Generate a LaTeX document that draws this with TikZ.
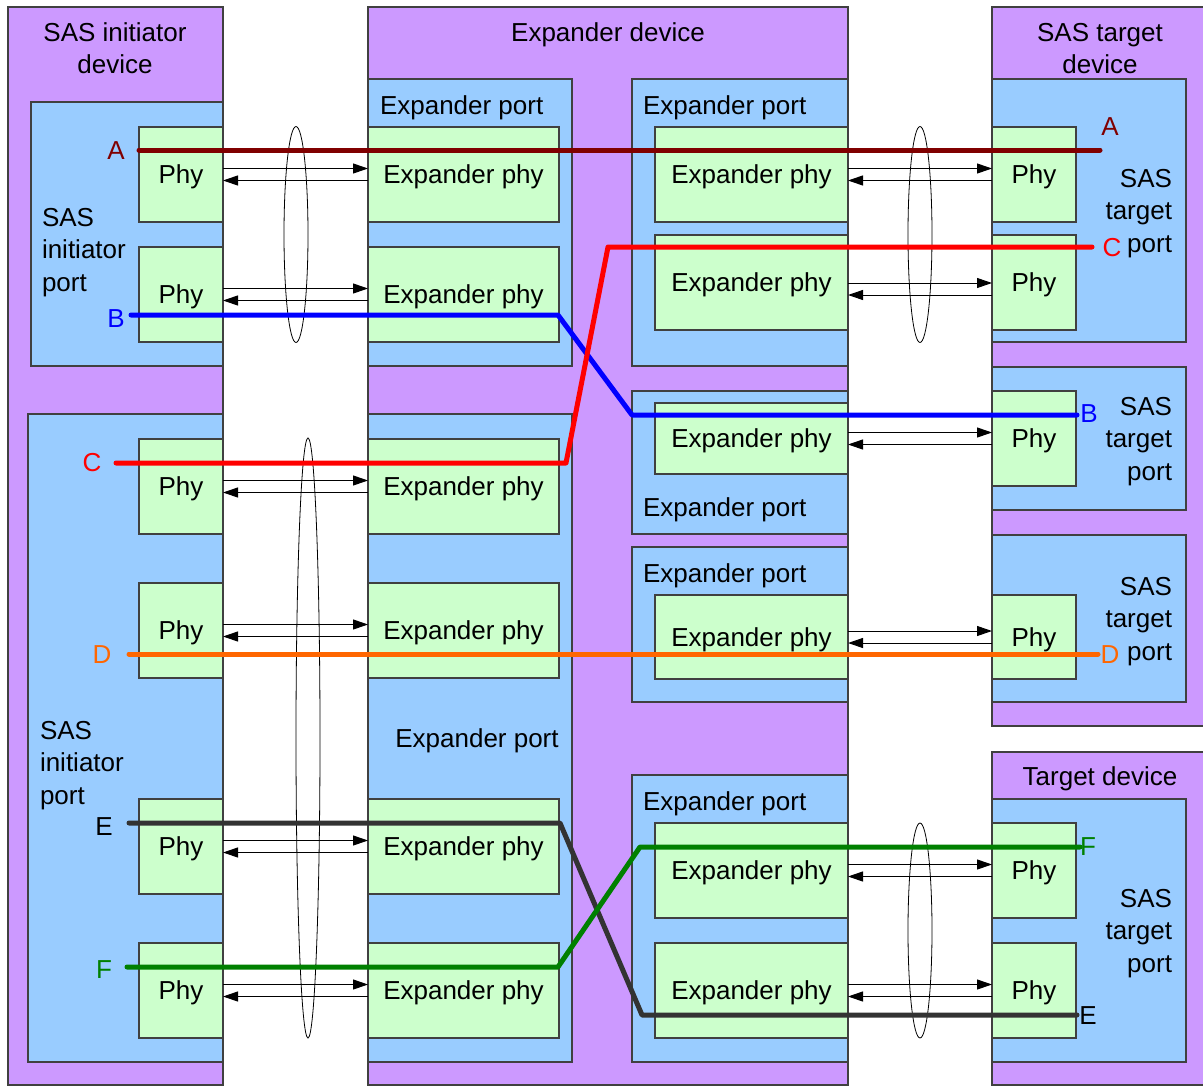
\documentclass[tikz,border=0pt]{standalone}
\usepackage{fontspec}
\setmainfont{Liberation Sans}
\usetikzlibrary{shapes.geometric, arrows.meta}
\definecolor{devc}{HTML}{CC99FF}
\definecolor{portc}{HTML}{99CCFF}
\definecolor{phyc}{HTML}{CCFFCC}
\definecolor{edgec}{HTML}{404040}
\definecolor{colA}{HTML}{800000}
\definecolor{colB}{HTML}{0000FF}
\definecolor{colC}{HTML}{FF0000}
\definecolor{colD}{HTML}{FF6600}
\definecolor{colE}{HTML}{333333}
\definecolor{colF}{HTML}{008000}
\begin{document}
\begin{tikzpicture}[x=1pt, y=-1pt,
  every node/.style={inner sep=0pt, outer sep=0pt},
  lbl/.style={font=\fontsize{26}{31}\selectfont, text height=18.6pt, text depth=0pt},
  box/.style={draw=edgec, line width=1.3pt, anchor=north west, lbl},
  dev/.style={box, fill=devc},
  port/.style={box, fill=portc},
  phybox/.style={box, fill=phyc},
  link/.style={ellipse, draw=black, line width=0.8pt, minimum width=24pt},
  fwd/.style={line width=1pt, -{Triangle[length=15pt, width=10pt]}},
  sig/.style={line width=5pt, line cap=round, line join=round},
]
\useasboundingbox (0,0) rectangle (1203,1087);
% devices
\node[dev, minimum width=215pt, minimum height=1078pt] (idev) at (8,7) {};
\node[dev, minimum width=480pt, minimum height=1078pt] (xdev) at (368,7) {};
\node[dev, minimum width=220pt, minimum height=719pt] (tdevA) at (992,7) {};
\node[dev, minimum width=220pt, minimum height=333pt] (tdevB) at (992,752) {};
% ports
\node[port, minimum width=192pt, minimum height=264pt] (ipA) at (31,102) {};
\node[port, minimum width=195pt, minimum height=648pt] (ipB) at (28,414) {};
\node[port, minimum width=204pt, minimum height=287pt] (xpLA) at (368,79) {};
\node[port, minimum width=204pt, minimum height=648pt] (xpLB) at (368,414) {};
\node[port, minimum width=216pt, minimum height=287pt] (xpRA) at (632,79) {};
\node[port, minimum width=216pt, minimum height=143pt] (xpRB) at (632,391) {};
\node[port, minimum width=216pt, minimum height=155pt] (xpRC) at (632,547) {};
\node[port, minimum width=216pt, minimum height=287pt] (xpRD) at (632,775) {};
\node[port, minimum width=194pt, minimum height=263pt] (tpA) at (992,79) {};
\node[port, minimum width=194pt, minimum height=143pt] (tpB) at (992,367) {};
\node[port, minimum width=194pt, minimum height=167pt] (tpC) at (992,535) {};
\node[port, minimum width=194pt, minimum height=263pt] (tpD) at (992,799) {};
% initiator phys
\foreach \n/\y in {1/127,2/247,3/439,4/583,5/799,6/943}{
  \node[phybox, minimum width=84pt, minimum height=95pt] (iphy\n) at (139,\y) {Phy};
  \node[phybox, minimum width=191pt, minimum height=95pt] (xphyL\n) at (368,\y) {Expander phy};
}
% expander right phys
\node[phybox, minimum width=193pt, minimum height=95pt] (xphyR1) at (655,127) {Expander phy};
\node[phybox, minimum width=193pt, minimum height=95pt] (xphyR2) at (655,235) {Expander phy};
\node[phybox, minimum width=193pt, minimum height=71pt] (xphyR3) at (655,403) {Expander phy};
\node[phybox, minimum width=193pt, minimum height=84pt] (xphyR4) at (655,595) {Expander phy};
\node[phybox, minimum width=193pt, minimum height=95pt] (xphyR5) at (655,823) {Expander phy};
\node[phybox, minimum width=193pt, minimum height=95pt] (xphyR6) at (655,943) {Expander phy};
% target phys
\node[phybox, minimum width=84pt, minimum height=95pt] (tphy1) at (992,127) {Phy};
\node[phybox, minimum width=84pt, minimum height=95pt] (tphy2) at (992,235) {Phy};
\node[phybox, minimum width=84pt, minimum height=95pt] (tphy3) at (992,391) {Phy};
\node[phybox, minimum width=84pt, minimum height=84pt] (tphy4) at (992,595) {Phy};
\node[phybox, minimum width=84pt, minimum height=95pt] (tphy5) at (992,823) {Phy};
\node[phybox, minimum width=84pt, minimum height=95pt] (tphy6) at (992,943) {Phy};
% labels
\node[lbl] (tIdevA) at (115,32) {SAS initiator};
\node[lbl] (tIdevB) at (115,64) {device};
\node[lbl] (tXdev) at (608,32) {Expander device};
\node[lbl] (tTdevA) at (1100,32) {SAS target};
\node[lbl] (tTdevB) at (1100,64) {device};
\node[lbl] (tTdevC) at (1100,776) {Target device};
\node[lbl, anchor=west] (tIpA1) at (42,217) {SAS};
\node[lbl, anchor=west] (tIpA2) at (42,249.5) {initiator};
\node[lbl, anchor=west] (tIpA3) at (42,282) {port};
\node[lbl, anchor=west] (tIpB1) at (40,730) {SAS};
\node[lbl, anchor=west] (tIpB2) at (40,762.5) {initiator};
\node[lbl, anchor=west] (tIpB3) at (40,795) {port};
\node[lbl, anchor=west] (tXpLA) at (380,105) {Expander port};
\node[lbl] (tXpLB) at (477,738) {Expander port};
\node[lbl, anchor=west] (tXpRA) at (643,105) {Expander port};
\node[lbl, anchor=west] (tXpRB) at (643,507) {Expander port};
\node[lbl, anchor=west] (tXpRC) at (643,573) {Expander port};
\node[lbl, anchor=west] (tXpRD) at (643,801) {Expander port};
\foreach \k/\y in {A/178,B/406,C/586,D/898}{
  \node[lbl, anchor=east] (tTp\k1) at (1172,\y) {SAS};
  \node[lbl, anchor=east] (tTp\k2) at (1172,\y+32.5) {target};
  \node[lbl, anchor=east] (tTp\k3) at (1172,\y+65) {port};
}
% ellipses (links)
\node[link, minimum height=216pt] (linkLA) at (296,234.5) {};
\node[link, minimum height=600pt] (linkLB) at (308,738) {};
\node[link, minimum height=216pt] (linkRA) at (920,234.5) {};
\node[link, minimum height=215pt] (linkRB) at (920,930.5) {};
% arrows left
\foreach \n in {1,...,6}{
  \draw[fwd] ([yshift=6pt]iphy\n.east) -- ([yshift=6pt]xphyL\n.west);
  \draw[fwd] ([yshift=-6pt]xphyL\n.west) -- ([yshift=-6pt]iphy\n.east);
}
% arrows right
\foreach \n in {1,3,4,5,6}{
  \draw[fwd] ([yshift=6pt]xphyR\n.east) -- ([yshift=6pt]tphy\n.west);
  \draw[fwd] ([yshift=-6pt]tphy\n.west) -- ([yshift=-6pt]xphyR\n.east);
}
\draw[fwd] ([yshift=-0.5pt]xphyR2.east) -- ([yshift=-0.5pt]tphy2.west);
\draw[fwd] ([yshift=-12.5pt]tphy2.west) -- ([yshift=-12.5pt]xphyR2.east);
% signal paths
\coordinate (a0) at (139,150); \coordinate (a1) at (1100,150);
\coordinate (b0) at (131,315); \coordinate (b1) at (558,315); \coordinate (b2) at (632,415); \coordinate (b3) at (1077,415);
\coordinate (c0) at (116,463); \coordinate (c1) at (566,463); \coordinate (c2) at (608,247); \coordinate (c3) at (1092,247);
\coordinate (d0) at (129,654); \coordinate (d1) at (1098,654);
\coordinate (e0) at (129,823); \coordinate (e1) at (560,823); \coordinate (e2) at (642,1015); \coordinate (e3) at (1077,1015);
\coordinate (f0) at (127,967); \coordinate (f1) at (558,967); \coordinate (f2) at (640,847); \coordinate (f3) at (1080,847);
\draw[sig, colA] (a0) -- (a1);
\draw[sig, colB] (b0) -- (b1) -- (b2) -- (b3);
\draw[sig, colC] (c0) -- (c1) -- (c2) -- (c3);
\draw[sig, colD] (d0) -- (d1);
\draw[sig, colE] (e0) -- (e1) -- (e2) -- (e3);
\draw[sig, colF] (f0) -- (f1) -- (f2) -- (f3);
% path letters
\node[lbl, text=colA] (lA0) at (116,150) {A};
\node[lbl, text=colA] (lA1) at (1110,126) {A};
\node[lbl, text=colB] (lB0) at (116,318) {B};
\node[lbl, text=colB] (lB1) at (1089,413) {B};
\node[lbl, text=colC] (lC0) at (92,462) {C};
\node[lbl, text=colC] (lC1) at (1112,247) {C};
\node[lbl, text=colD] (lD0) at (102,654) {D};
\node[lbl, text=colD] (lD1) at (1110,654) {D};
\node[lbl, text=black] (lE0) at (104,826) {E};
\node[lbl, text=black] (lE1) at (1088,1015) {E};
\node[lbl, text=colF] (lF0) at (104,969) {F};
\node[lbl, text=colF] (lF1) at (1088,846) {F};
\end{tikzpicture}
\end{document}
